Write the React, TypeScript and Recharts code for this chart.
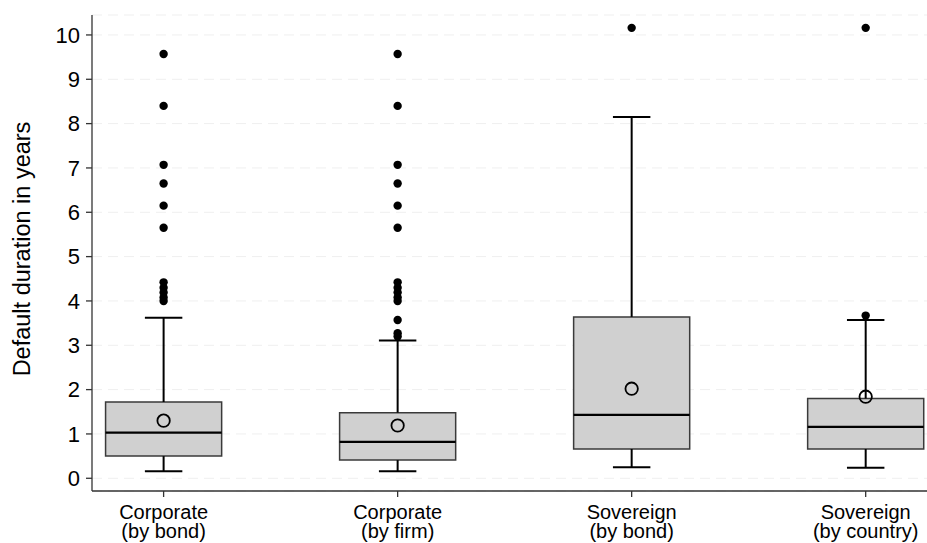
import React from "react";
import {
  ComposedChart,
  XAxis,
  YAxis,
  CartesianGrid,
  Scatter,
  ReferenceArea,
  ReferenceLine,
  Label,
} from "recharts";

// ---- data ----
const categoryTop = ["Corporate", "Corporate", "Sovereign", "Sovereign"];
const categoryBottom = ["(by bond)", "(by firm)", "(by bond)", "(by country)"];
const categoryIndex = [1, 2, 3, 4];

const whiskerLow = [0.16, 0.16, 0.25, 0.24];
const quartile1 = [0.5, 0.41, 0.66, 0.66];
const median = [1.03, 0.82, 1.43, 1.16];
const quartile3 = [1.72, 1.48, 3.64, 1.8];
const whiskerHigh = [3.62, 3.11, 8.15, 3.57];
const mean = [1.3, 1.19, 2.02, 1.84];

const outliersCorporateBond = [9.57, 8.4, 7.07, 6.65, 6.15, 5.65, 4.42, 4.3, 4.19, 4.08, 4.0];
const outliersCorporateFirm = [9.57, 8.4, 7.07, 6.65, 6.15, 5.65, 4.42, 4.3, 4.19, 4.08, 4.0, 3.57, 3.27, 3.2];
const outliersSovereignBond = [10.16];
const outliersSovereignCountry = [10.16, 3.67];
const outlierGroups = [
  outliersCorporateBond,
  outliersCorporateFirm,
  outliersSovereignBond,
  outliersSovereignCountry,
];

const yTicks = [0, 1, 2, 3, 4, 5, 6, 7, 8, 9, 10];

// ---- derived tables ----
const outlierData = outlierGroups.flatMap((g, i) =>
  g.map((v) => ({ x: categoryIndex[i], y: v }))
);
const meanData = mean.map((v, i) => ({ x: categoryIndex[i], y: v }));

// ---- styles ----
const FONT = "'Liberation Sans', Arial, Helvetica, sans-serif";
const BOX_HALF = 0.248;
const CAP_HALF = 0.08;
const BOX_FILL = "#d0d0d0";
const BOX_STROKE = "#3a3a3a";

const CategoryTick = (props: any) => {
  const { x, y, payload } = props;
  const i = categoryIndex.indexOf(payload.value);
  if (i < 0) return null;
  return (
    <text x={x} y={y} textAnchor="middle" fontSize={20} fill="#000" fontFamily={FONT}>
      <tspan x={x} dy={20}>{categoryTop[i]}</tspan>
      <tspan x={x} dy={18.5}>{categoryBottom[i]}</tspan>
    </text>
  );
};

const HollowCircle = (props: any) => (
  <circle cx={props.cx} cy={props.cy} r={6.2} fill="none" stroke="#000" strokeWidth={1.8} />
);
const Dot = (props: any) => <circle cx={props.cx} cy={props.cy} r={4.2} fill="#000" />;

export default function App() {
  return (
    <div style={{ position: "absolute", left: 0, top: 0, background: "#fff" }}>
      <ComposedChart
        width={927}
        height={543}
        margin={{ top: 15, right: 0, bottom: 0, left: 0 }}
        style={{ fontFamily: FONT }}
      >
        <CartesianGrid
          vertical={false}
          stroke="#efefef"
          strokeDasharray="10 6"
        />
        <XAxis
          dataKey="x"
          type="number"
          domain={[0.694, 4.262]}
          allowDataOverflow
          ticks={categoryIndex}
          tick={<CategoryTick />}
          tickSize={6}
          height={52}
          axisLine={{ stroke: "#333", strokeWidth: 1.3 }}
          tickLine={{ stroke: "#333", strokeWidth: 1.3 }}
          interval={0}
        />
        <YAxis
          dataKey="y"
          type="number"
          domain={[-0.287, 10.45]}
          allowDataOverflow
          ticks={yTicks}
          width={92}
          tickSize={6}
          tickMargin={6}
          tick={{ fontSize: 22, fill: "#000", fontFamily: FONT }}
          axisLine={{ stroke: "#333", strokeWidth: 1.3 }}
          tickLine={{ stroke: "#333", strokeWidth: 1.3 }}
        >
          <Label
            content={(p: any) => {
              const vb = p.viewBox;
              const cx = vb.x + 22;
              const cy = vb.y + vb.height / 2 - 4;
              return (
                <text
                  x={cx}
                  y={cy}
                  transform={`rotate(-90 ${cx} ${cy})`}
                  textAnchor="middle"
                  dominantBaseline="central"
                  fontSize={23.5}
                  fill="#000"
                  fontFamily={FONT}
                >
                  Default duration in years
                </text>
              );
            }}
          />
        </YAxis>

        {/* whiskers */}
        {categoryIndex.map((c, i) => (
          <ReferenceLine
            key={`wl-${i}`}
            segment={[
              { x: c, y: whiskerLow[i] },
              { x: c, y: quartile1[i] },
            ]}
            stroke="#000"
            strokeWidth={2}
          />
        ))}
        {categoryIndex.map((c, i) => (
          <ReferenceLine
            key={`wh-${i}`}
            segment={[
              { x: c, y: quartile3[i] },
              { x: c, y: whiskerHigh[i] },
            ]}
            stroke="#000"
            strokeWidth={2}
          />
        ))}
        {categoryIndex.map((c, i) => (
          <ReferenceLine
            key={`cl-${i}`}
            segment={[
              { x: c - CAP_HALF, y: whiskerLow[i] },
              { x: c + CAP_HALF, y: whiskerLow[i] },
            ]}
            stroke="#000"
            strokeWidth={2}
          />
        ))}
        {categoryIndex.map((c, i) => (
          <ReferenceLine
            key={`ch-${i}`}
            segment={[
              { x: c - CAP_HALF, y: whiskerHigh[i] },
              { x: c + CAP_HALF, y: whiskerHigh[i] },
            ]}
            stroke="#000"
            strokeWidth={2}
          />
        ))}

        {/* boxes */}
        {categoryIndex.map((c, i) => (
          <ReferenceArea
            key={`box-${i}`}
            x1={c - BOX_HALF}
            x2={c + BOX_HALF}
            y1={quartile1[i]}
            y2={quartile3[i]}
            fill={BOX_FILL}
            fillOpacity={1}
            stroke={BOX_STROKE}
            strokeWidth={1.5}
          />
        ))}

        {/* medians */}
        {categoryIndex.map((c, i) => (
          <ReferenceLine
            key={`med-${i}`}
            segment={[
              { x: c - BOX_HALF, y: median[i] },
              { x: c + BOX_HALF, y: median[i] },
            ]}
            stroke="#000"
            strokeWidth={2.2}
          />
        ))}

        <Scatter
          data={outlierData}
          dataKey="y"
          shape={<Dot />}
          isAnimationActive={false}
        />
        <Scatter
          data={meanData}
          dataKey="y"
          shape={<HollowCircle />}
          isAnimationActive={false}
        />
      </ComposedChart>
    </div>
  );
}
